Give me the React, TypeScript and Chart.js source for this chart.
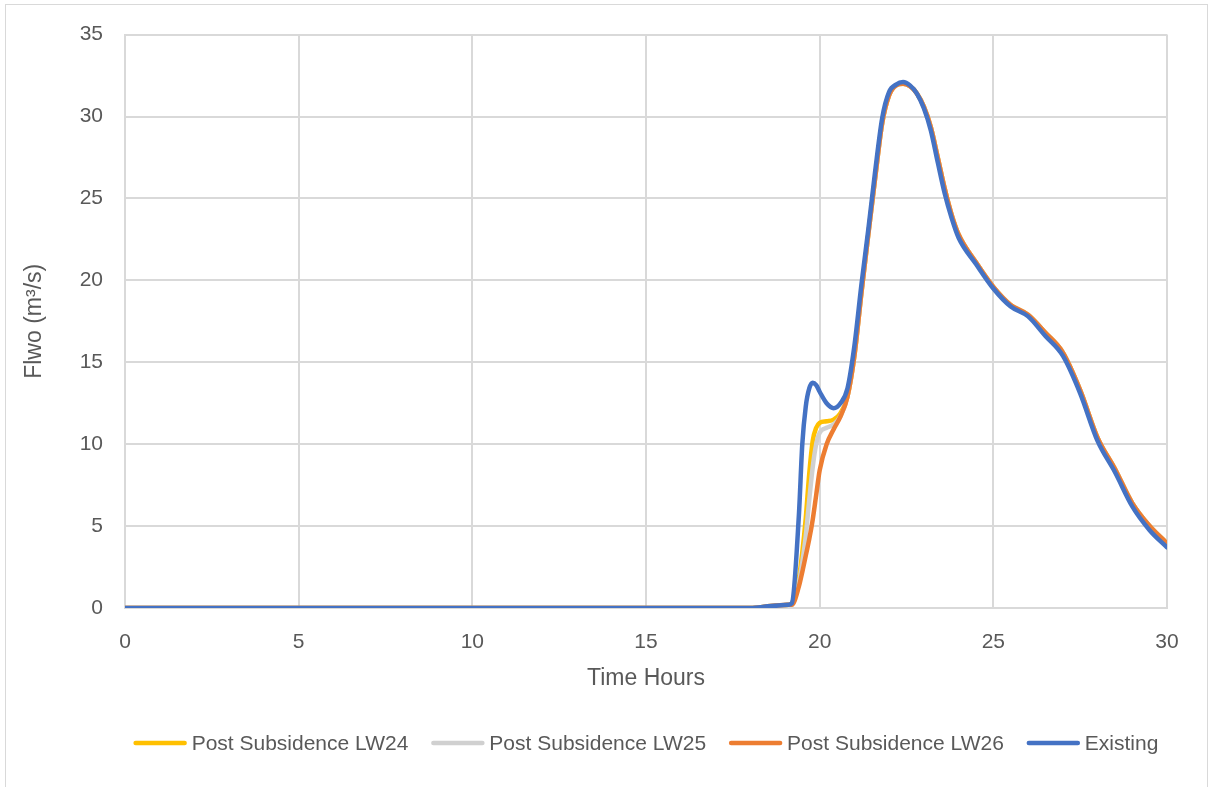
import React, { useEffect, useRef } from "react";
import { Chart, registerables } from "chart.js";

Chart.register(...registerables);

// Time axis (hours)
const times = [0, 5, 10, 15, 18, 18.6, 19.1, 19.2, 19.4, 19.5, 19.6, 19.7, 19.8, 19.9, 20.0, 20.2, 20.4, 20.6, 20.8, 21.0, 21.2, 21.4, 21.6, 21.8, 22.0, 22.2, 22.4, 22.6, 22.8, 23.0, 23.2, 23.4, 23.6, 23.8, 24.0, 24.5, 25.0, 25.5, 26.0, 26.5, 27.0, 27.5, 28.0, 28.5, 29.0, 29.5, 30.0];

// Flow (m3/s)
const lw24Flow = [0, 0, 0, 0, 0, 0.12, 0.2, 0.3, 1.8, 3.4, 5.5, 8.2, 10.2, 11.0, 11.3, 11.4, 11.5, 11.9, 12.9, 15.4, 19.2, 22.8, 26.3, 29.6, 31.3, 31.9, 32.0, 31.85, 31.4, 30.6, 29.35, 27.5, 25.6, 24.0, 22.8, 21.1, 19.6, 18.5, 17.9, 16.8, 15.6, 13.3, 10.4, 8.5, 6.4, 5.0, 3.95];
const lw25Flow = [0, 0, 0, 0, 0, 0.12, 0.2, 0.3, 1.5, 2.8, 4.4, 6.6, 8.6, 10.0, 10.7, 11.0, 11.2, 11.7, 12.9, 15.4, 19.2, 22.8, 26.3, 29.6, 31.3, 31.9, 32.0, 31.85, 31.4, 30.6, 29.35, 27.5, 25.6, 24.0, 22.8, 21.1, 19.6, 18.5, 17.9, 16.8, 15.6, 13.3, 10.4, 8.5, 6.4, 5.0, 3.95];
const lw26Flow = [0, 0, 0, 0, 0, 0.12, 0.2, 0.2, 1.3, 2.2, 3.2, 4.2, 5.4, 6.9, 8.4, 10.0, 10.9, 11.7, 12.9, 15.4, 19.2, 22.8, 26.3, 29.6, 31.3, 31.9, 32.0, 31.85, 31.4, 30.6, 29.35, 27.5, 25.6, 24.0, 22.8, 21.1, 19.6, 18.5, 17.9, 16.8, 15.6, 13.3, 10.4, 8.5, 6.4, 5.0, 3.95];
const existingFlow = [0, 0, 0, 0, 0, 0.12, 0.2, 0.3, 5.6, 10.0, 12.3, 13.4, 13.75, 13.6, 13.2, 12.5, 12.2, 12.5, 13.4, 16.0, 19.7, 23.1, 26.7, 29.9, 31.5, 31.95, 32.1, 31.9, 31.4, 30.5, 29.15, 27.2, 25.3, 23.8, 22.6, 21.0, 19.5, 18.4, 17.8, 16.6, 15.4, 13.1, 10.2, 8.3, 6.2, 4.75, 3.7];

const seriesLabels = ["Post Subsidence LW24", "Post Subsidence LW25", "Post Subsidence LW26", "Existing"];
const seriesColors = ["#FFC000", "#D0D0D0", "#ED7D31", "#4472C4"];

const xTitle = "Time Hours";
const yTitle = "Flwo (m³/s)";

const FONT = "'Liberation Sans', Arial, sans-serif";
const TEXT = "#595959";
const GRID = "#d9d9d9";

// Excel-style legend: line sample + label, centred under the plot area
const bottomLegend = {
  id: "bottomLegend",
  afterDraw(chart: any) {
    const ctx = chart.ctx;
    const ds = chart.data.datasets;
    const lineLen = 53;
    const gapText = 5;
    const gapItem = 23;
    ctx.save();
    ctx.font = `21px ${FONT}`;
    const widths = ds.map((d: any) => lineLen + gapText + ctx.measureText(d.label).width);
    const total = widths.reduce((a: number, b: number) => a + b, 0) + gapItem * (ds.length - 1);
    const center = (chart.chartArea.left + chart.chartArea.right) / 2;
    let x = center - total / 2;
    const y = chart.height - 44;
    ds.forEach((d: any, i: number) => {
      ctx.strokeStyle = d.borderColor;
      ctx.lineWidth = 4.5;
      ctx.lineCap = "round";
      ctx.beginPath();
      ctx.moveTo(x + 2, y);
      ctx.lineTo(x + lineLen - 2, y);
      ctx.stroke();
      ctx.fillStyle = TEXT;
      ctx.textBaseline = "middle";
      ctx.textAlign = "left";
      ctx.fillText(d.label, x + lineLen + gapText, y + 1);
      x += widths[i] + gapItem;
    });
    ctx.restore();
  },
};

export default function App() {
  const ref = useRef<HTMLCanvasElement>(null);

  useEffect(() => {
    const canvas = ref.current;
    if (!canvas) return;
    Chart.defaults.font.family = FONT;
    const seriesValues = [lw24Flow, lw25Flow, lw26Flow, existingFlow];
    const chart = new Chart(canvas, {
      type: "line",
      data: {
        datasets: seriesValues.map((vals, i) => ({
          label: seriesLabels[i],
          data: times.map((t, j) => ({ x: t, y: vals[j] })),
          borderColor: seriesColors[i],
          backgroundColor: seriesColors[i],
          borderWidth: 4.5,
          pointRadius: 0,
          pointHoverRadius: 0,
          cubicInterpolationMode: "monotone",
          fill: false,
          order: 4 - i,
          borderCapStyle: "round",
          borderJoinStyle: "round",
        })),
      },
      options: {
        responsive: false,
        animation: false,
        events: [],
        layout: { padding: { top: 33, right: 41, bottom: 0, left: 0 } },
        scales: {
          x: {
            type: "linear",
            min: 0,
            max: 30,
            ticks: { stepSize: 5, padding: 21.5, color: TEXT, font: { size: 21, family: FONT } },
            grid: { color: GRID, lineWidth: 2, drawTicks: false },
            border: { color: GRID, width: 2 },
            title: {
              display: true,
              text: xTitle,
              color: TEXT,
              font: { size: 23, family: FONT },
              padding: { top: 0, bottom: 95 },
            },
            afterFit: (s: any) => {
              s.height = 179;
            },
          },
          y: {
            type: "linear",
            min: 0,
            max: 35,
            ticks: { stepSize: 5, padding: 22, color: TEXT, font: { size: 21, family: FONT } },
            grid: { color: GRID, lineWidth: 2, drawTicks: false },
            border: { color: GRID, width: 2 },
            title: {
              display: true,
              text: yTitle,
              color: TEXT,
              font: { size: 23, family: FONT },
              padding: { top: 21, bottom: 0 },
            },
            afterFit: (s: any) => {
              s.width = 125;
            },
          },
        },
        plugins: {
          legend: { display: false },
          tooltip: { enabled: false },
        },
      } as any,
      plugins: [bottomLegend],
    });
    return () => chart.destroy();
  }, []);

  return (
    <div style={{ position: "fixed", left: 0, top: 0, width: 1208, height: 787, background: "#fff", overflow: "hidden" }}>
      <div
        style={{
          position: "absolute",
          left: 5,
          top: 4,
          width: 1203,
          height: 800,
          border: "1px solid #d9d9d9",
          boxSizing: "border-box",
        }}
      />
      <canvas ref={ref} width={1208} height={787} style={{ position: "absolute", left: 0, top: 0 }} />
    </div>
  );
}
